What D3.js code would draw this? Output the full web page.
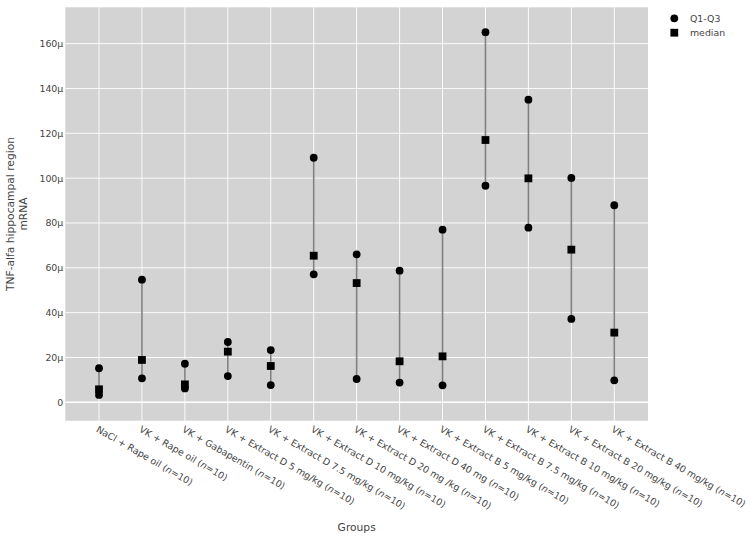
<!DOCTYPE html>
<html>
<head>
<meta charset="utf-8">
<script src="https://cdn.jsdelivr.net/npm/d3@7"></script>
<style>
  body { margin: 0; background: #fff; }
  text { font-family: "DejaVu Sans", Verdana, sans-serif; fill: #444; }
</style>
</head>
<body>
<div id="chart"></div>
<script>

// group names (x categories)
var groups = [
	"NaCl + Rape oil",
	"VK + Rape oil",
	"VK + Gabapentin",
	"VK + Extract D 5 mg/kg",
	"VK + Extract D 7.5 mg/kg",
	"VK + Extract D 10 mg/kg",
	"VK + Extract D 20 mg /kg",
	"VK + Extract D 40 mg",
	"VK + Extract B 5 mg/kg",
	"VK + Extract B 7.5 mg/kg",
	"VK + Extract B 10 mg/kg",
	"VK + Extract B 20 mg/kg",
	"VK + Extract B 40 mg/kg"
];
var groupN = [10, 10, 10, 10, 10, 10, 10, 10, 10, 10, 10, 10, 10];

// values in micro units
var q1 = [3.3, 10.7, 6.2, 11.7, 7.7, 57.1, 10.4, 8.8, 7.6, 96.6, 77.9, 37.2, 9.8];
var medians = [5.8, 18.9, 8.0, 22.6, 16.2, 65.4, 53.2, 18.3, 20.5, 117.0, 99.9, 68.1, 31.1];
var q3 = [15.2, 54.7, 17.2, 26.9, 23.3, 109.1, 66.0, 58.7, 77.0, 165.1, 135.0, 100.1, 87.9];

var yTicks = [0, 20, 40, 60, 80, 100, 120, 140, 160];
var legendItems = ["Q1-Q3", "median"];

var width = 753;
var height = 537;
var margin = {left: 65.3, right: 105, top: 7.3, bottom: 116.3};

var svg = d3.select("#chart")
	.append("svg")
	.attr("width", width)
	.attr("height", height);

var x = d3.scalePoint()
	.domain(d3.range(groups.length))
	.range([margin.left, width - margin.right])
	.padding(0.785);

var y = d3.scaleLinear()
	.domain([-8.2, 176.2])
	.range([height - margin.bottom, margin.top]);

// plot background
svg.append("rect")
	.attr("x", margin.left)
	.attr("y", margin.top)
	.attr("width", width - margin.right - margin.left)
	.attr("height", height - margin.bottom - margin.top)
	.attr("fill", "#d3d3d3");

// grid lines
svg.append("g")
	.selectAll("line")
	.data(yTicks)
	.enter()
	.append("line")
	.attr("x1", margin.left)
	.attr("x2", width - margin.right)
	.attr("y1", function(d) { return y(d); })
	.attr("y2", function(d) { return y(d); })
	.attr("stroke", "#fff")
	.attr("stroke-width", function(d) { return d === 0 ? 1.6 : 0.9; });

svg.append("g")
	.selectAll("line")
	.data(groups)
	.enter()
	.append("line")
	.attr("x1", function(d, i) { return x(i); })
	.attr("x2", function(d, i) { return x(i); })
	.attr("y1", margin.top)
	.attr("y2", height - margin.bottom)
	.attr("stroke", "#fff")
	.attr("stroke-width", 0.9);

// y axis labels
var yAxis = d3.axisLeft(y)
	.tickValues(yTicks)
	.tickSize(0)
	.tickPadding(2)
	.tickFormat(function(d) { return d === 0 ? "0" : d + "\u03bc"; });

var gy = svg.append("g")
	.attr("transform", "translate(" + (margin.left) + ",0)")
	.call(yAxis);
gy.select(".domain").remove();
gy.selectAll("text")
	.style("font-size", "9.4px")
	.style("font-family", "DejaVu Sans, Verdana, sans-serif")
	.attr("fill", "#444");

// x axis labels (rotated)
var xLabels = svg.append("g")
	.selectAll("text")
	.data(groups)
	.enter()
	.append("text")
	.attr("transform", function(d, i) {
		return "translate(" + (x(i) - 3.5) + "," + (height - margin.bottom + 10.5) + ") rotate(30)";
	})
	.attr("text-anchor", "start")
	.style("font-size", "9.4px");

xLabels.append("tspan").text(function(d) { return d + " ("; });
xLabels.append("tspan").style("font-style", "italic").text("n");
xLabels.append("tspan").text(function(d, i) { return "=" + groupN[i] + ")"; });

// range lines
svg.append("g")
	.selectAll("line")
	.data(groups)
	.enter()
	.append("line")
	.attr("x1", function(d, i) { return x(i); })
	.attr("x2", function(d, i) { return x(i); })
	.attr("y1", function(d, i) { return y(q1[i]); })
	.attr("y2", function(d, i) { return y(q3[i]); })
	.attr("stroke", "#808080")
	.attr("stroke-width", 1.6);

// Q1 / Q3 circles
var quartiles = [];
groups.forEach(function(g, i) {
	quartiles.push({i: i, v: q1[i]});
	quartiles.push({i: i, v: q3[i]});
});

var r = 3.9;
svg.append("g")
	.selectAll("circle")
	.data(quartiles)
	.enter()
	.append("circle")
	.attr("cx", function(d) { return x(d.i); })
	.attr("cy", function(d) { return y(d.v); })
	.attr("r", r)
	.attr("fill", "#000");

// median squares
var sq = 7.8;
svg.append("g")
	.selectAll("rect")
	.data(medians)
	.enter()
	.append("rect")
	.attr("x", function(d, i) { return x(i) - sq / 2; })
	.attr("y", function(d) { return y(d) - sq / 2; })
	.attr("width", sq)
	.attr("height", sq)
	.attr("fill", "#000");

// axis titles
svg.append("text")
	.attr("x", (margin.left + width - margin.right) / 2)
	.attr("y", 531)
	.attr("text-anchor", "middle")
	.style("font-size", "10.7px")
	.text("Groups");

var yTitle = svg.append("text")
	.attr("transform", "translate(17,214) rotate(-90)")
	.attr("text-anchor", "middle")
	.style("font-size", "10.7px");
yTitle.append("tspan").attr("x", 0).attr("dy", "-0.3em").text("TNF-alfa hippocampal region");
yTitle.append("tspan").attr("x", 0).attr("dy", "1.25em").text("mRNA");

// legend
var legend = svg.append("g")
	.attr("transform", "translate(674.3,18.3)");

legend.append("circle")
	.attr("cx", 0)
	.attr("cy", 0)
	.attr("r", r)
	.attr("fill", "#000");

legend.append("rect")
	.attr("x", -sq / 2)
	.attr("y", 14.4 - sq / 2)
	.attr("width", sq)
	.attr("height", sq)
	.attr("fill", "#000");

legend.selectAll("text")
	.data(legendItems)
	.enter()
	.append("text")
	.attr("x", 15.7)
	.attr("y", function(d, i) { return i * 14.4; })
	.attr("dy", "0.35em")
	.style("font-size", "9.4px")
	.text(function(d) { return d; });

</script>
</body>
</html>
